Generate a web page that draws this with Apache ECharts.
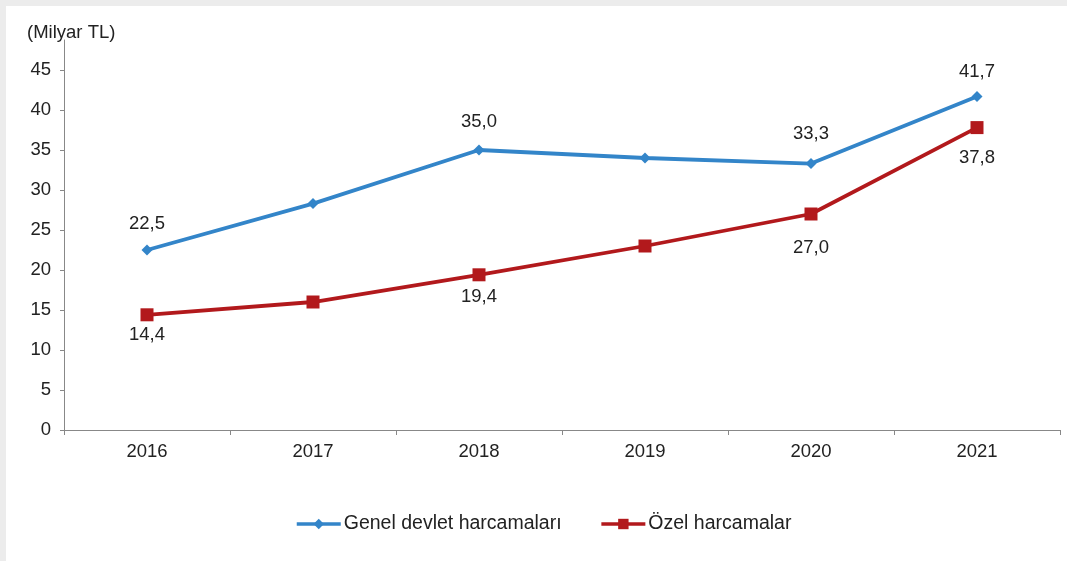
<!DOCTYPE html>
<html>
<head>
<meta charset="utf-8">
<script src="https://cdn.jsdelivr.net/npm/echarts@6/dist/echarts.min.js"></script>
<style>
html,body{margin:0;padding:0;background:#ececec;}
#c{position:absolute;left:6px;top:6px;width:1061px;height:555px;background:#fff;}
</style>
</head>
<body>
<div id="c"></div>
<script>
const categories = ['2016','2017','2018','2019','2020','2021'];
const genel = [22.5, 28.3, 35.0, 34.0, 33.3, 41.7];
const ozel = [14.4, 16.0, 19.4, 23.0, 27.0, 37.8];
const genelLabeled = [true, false, true, false, true, true];
const ozelLabeled = [true, false, true, false, true, true];
const seriesNames = ['Genel devlet harcamaları', 'Özel harcamalar'];
const yTicks = [0,5,10,15,20,25,30,35,40,45];

// label gaps (styling)
const genelLabelGap = [11.5, 10, 13, 10, 14.5, 9.5];
const ozelLabelGap = [4.5, 5, 6.5, 5, 17.5, 14.5];

const fmt = v => v.toFixed(1).replace('.', ',');
const font = 'Liberation Sans, Arial, sans-serif';
const FS = 18.5;
const chart = echarts.init(document.getElementById('c'));
function mk(vals, flags, pos, gaps){
  return vals.map((v,i)=>({value:v, label:{show:flags[i], position:pos, distance:gaps[i]}}));
}
chart.setOption({
  animation:false,
  title:{text:'(Milyar TL)', left:16, top:12, textStyle:{fontFamily:font, fontSize:FS, fontWeight:'normal', color:'#222'}},
  grid:{left:58, right:7, top:34, bottom:131},
  legend:{top:503, left:284, itemWidth:44, itemHeight:13, itemGap:38,
    lineStyle:{width:3.5},
    textStyle:{fontFamily:font, fontSize:19.5, color:'#222', padding:[0,0,0,-2]},
    data:seriesNames},
  xAxis:{type:'category', data:categories, boundaryGap:true,
    axisLine:{lineStyle:{color:'#888', width:1}},
    axisTick:{show:true, inside:false, length:5, lineStyle:{color:'#888'}},
    axisLabel:{fontFamily:font, fontSize:FS, color:'#222', margin:12}},
  yAxis:{type:'value', min:0, max:48.75, interval:5,
    axisLine:{show:true, lineStyle:{color:'#888', width:1}},
    axisTick:{show:true, length:4, lineStyle:{color:'#888'}},
    splitLine:{show:false},
    axisLabel:{fontFamily:font, fontSize:FS, color:'#222', margin:13, showMaxLabel:false,
      formatter:v=> yTicks.includes(v) ? String(v) : ''}},
  series:[
    {name:seriesNames[0], type:'line', data:mk(genel, genelLabeled, 'top', genelLabelGap),
      symbol:'diamond', symbolSize:11, lineStyle:{color:'#3385C9', width:3.8},
      itemStyle:{color:'#3385C9'},
      label:{fontFamily:font, fontSize:FS, color:'#222', formatter:p=>fmt(p.value)}},
    {name:seriesNames[1], type:'line', data:mk(ozel, ozelLabeled, 'bottom', ozelLabelGap),
      symbol:'rect', symbolSize:13, lineStyle:{color:'#B2191C', width:3.8},
      itemStyle:{color:'#B2191C'},
      label:{fontFamily:font, fontSize:FS, color:'#222', formatter:p=>fmt(p.value)}}
  ]
});
</script>
</body>
</html>
